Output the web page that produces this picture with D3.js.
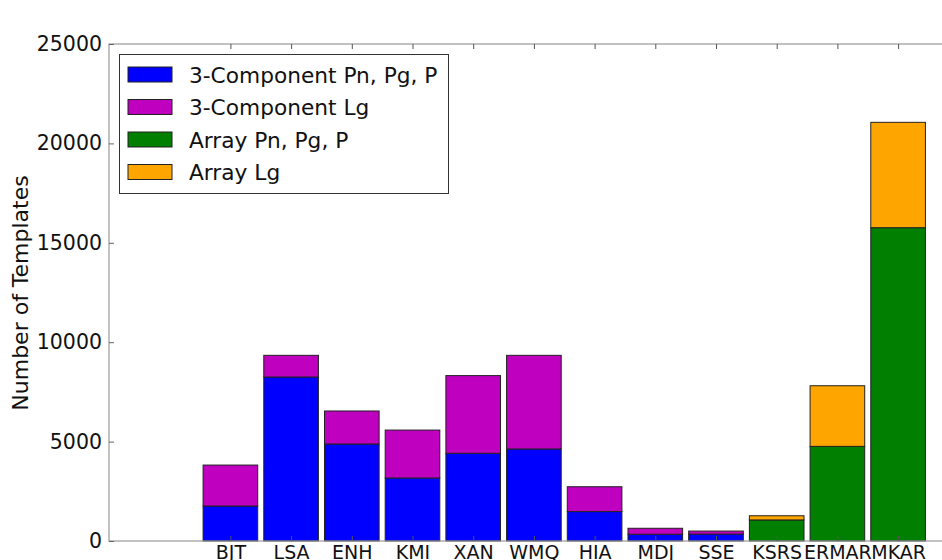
<!DOCTYPE html>
<html>
<head>
<meta charset="utf-8">
<script src="https://cdn.jsdelivr.net/npm/d3@7"></script>
<style>
  body { margin: 0; background: #fff; }
  svg text { font-family: "DejaVu Sans", sans-serif; }
</style>
</head>
<body>
<svg id="chart"></svg>
<script>
var width = 942,
    height = 560;

// stations and counts
var stations = ["BJT", "LSA", "ENH", "KMI", "XAN", "WMQ", "HIA", "MDJ", "SSE", "KSRS", "ERMAR", "MKAR"];
var comp3P  = [1760, 8250, 4880, 3170, 4410, 4630, 1480, 340, 350, 0, 0, 0];
var comp3Lg = [2060, 1090, 1660, 2410, 3910, 4710, 1250, 300, 150, 0, 0, 0];
var arrayP  = [0, 0, 0, 0, 0, 0, 0, 0, 0, 1060, 4760, 15760];
var arrayLg = [0, 0, 0, 0, 0, 0, 0, 0, 0, 210, 3050, 5300];

var seriesNames = ["3-Component Pn, Pg, P", "3-Component Lg", "Array Pn, Pg, P", "Array Lg"];
var seriesColors = ["#0000ff", "#bf00bf", "#007f00", "#ffa500"];
var yTicks = [0, 5000, 10000, 15000, 20000, 25000];

var margin = {left: 109, top: 44, bottom: 541};

var svg = d3.select("#chart")
    .attr("width", width)
    .attr("height", height);

var x = d3.scaleLinear().domain([-2, 12]).range([margin.left, margin.left + 14 * 60.7]);
var y = d3.scaleLinear().domain([0, 25000]).range([margin.bottom, margin.top]);
var barW = x(0.9) - x(0);

// build stack rows
var rows = stations.map(function(s, i) {
    return {station: s, i: i, a: comp3P[i], b: comp3Lg[i], c: arrayP[i], d: arrayLg[i]};
});
var stack = d3.stack().keys(["a", "b", "c", "d"])(rows);

var g = svg.append("g");

stack.forEach(function(layer, k) {
    g.selectAll(null)
        .data(layer.filter(function(d) { return d[1] - d[0] > 0; }))
        .enter().append("rect")
        .attr("x", function(d) { return x(d.data.i) - barW / 2; })
        .attr("y", function(d) { return y(d[1]); })
        .attr("width", barW)
        .attr("height", function(d) { return y(d[0]) - y(d[1]); })
        .style("fill", seriesColors[k])
        .style("stroke", "#222")
        .style("stroke-width", 1);
});

// frame
var right = x(12);
svg.append("rect")
    .attr("x", margin.left).attr("y", margin.top)
    .attr("width", right - margin.left).attr("height", margin.bottom - margin.top)
    .style("fill", "none").style("stroke", "#999").style("stroke-width", 1.2);

// y axis
var yAxis = d3.axisLeft(y).tickValues(yTicks).tickSize(-5).tickPadding(7).tickFormat(d3.format("d"));
var ya = svg.append("g").attr("transform", "translate(" + margin.left + ",0)").call(yAxis);
ya.attr("font-family", null);
ya.select(".domain").remove();
ya.selectAll("line").style("stroke", "#666");
ya.selectAll("text").style("font-size", "20.5px").style("fill", "#111");

// x axis
var xAxis = d3.axisBottom(x).tickValues(d3.range(stations.length)).tickSize(-5).tickPadding(5)
    .tickFormat(function(i) { return stations[i]; });
var xa = svg.append("g").attr("transform", "translate(0," + margin.bottom + ")").call(xAxis);
xa.attr("font-family", null);
xa.select(".domain").remove();
xa.selectAll("line").style("stroke", "#555");
xa.selectAll("text").style("font-size", "19px").style("fill", "#111");

// top ticks
svg.append("g").attr("transform", "translate(0," + margin.top + ")")
    .call(d3.axisTop(x).tickValues(d3.range(stations.length)).tickSize(-5).tickFormat(""))
    .call(function(s) { s.select(".domain").remove(); s.selectAll("line").style("stroke", "#555"); });

// y label
svg.append("text")
    .attr("transform", "translate(28,293) rotate(-90)")
    .attr("text-anchor", "middle")
    .style("font-size", "22px")
    .style("fill", "#111")
    .text("Number of Templates");

// legend
var legend = svg.append("g");
legend.append("rect")
    .attr("x", 119.5).attr("y", 54.5).attr("width", 329).attr("height", 139)
    .style("fill", "#fff").style("stroke", "#333").style("stroke-width", 1);
seriesNames.forEach(function(name, k) {
    var yy = 67 + k * 32.5;
    legend.append("rect")
        .attr("x", 128).attr("y", yy).attr("width", 44).attr("height", 15)
        .style("fill", seriesColors[k]).style("stroke", "#222").style("stroke-width", 1);
    legend.append("text")
        .attr("x", 189).attr("y", yy + 15.5)
        .style("font-size", "21.7px").style("fill", "#111")
        .text(name);
});
</script>
</body>
</html>
